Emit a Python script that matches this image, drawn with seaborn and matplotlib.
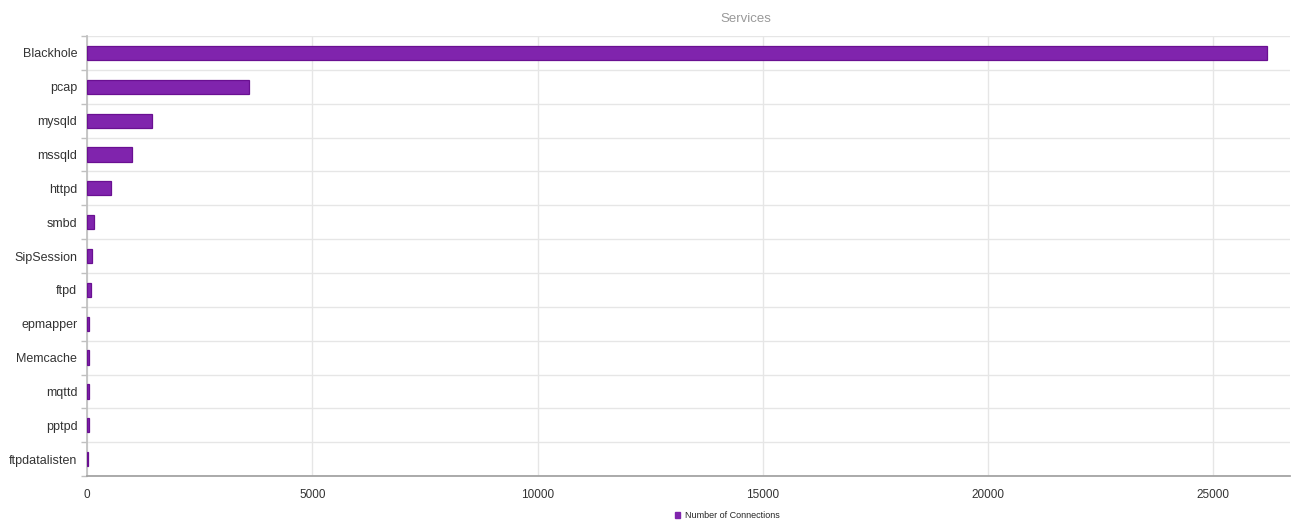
import matplotlib
matplotlib.use("Agg")
import matplotlib.pyplot as plt
import seaborn as sns
import pandas as pd
import numpy as np
from matplotlib.ticker import FixedLocator
from matplotlib.patches import Patch

services = ["Blackhole", "pcap", "mysqld", "mssqld", "httpd", "smbd", "SipSession",
            "ftpd", "epmapper", "Memcache", "mqttd", "pptpd", "ftpdatalisten"]
connections = [26200, 3600, 1440, 1000, 530, 155, 110, 85, 50, 50, 45, 45, 12]
x_ticks = [0, 5000, 10000, 15000, 20000, 25000]

df = pd.DataFrame({"service": services, "connections": connections})

sns.set_theme(style="white")
plt.rcParams["font.family"] = ["Liberation Sans", "DejaVu Sans"]

fig = plt.figure(figsize=(12.99, 5.22), dpi=100)
ax = fig.add_axes([0.067, 0.088, 0.926, 0.843])

bar_color = "#8024AD"
sns.barplot(data=df, y="service", x="connections", orient="h", color=bar_color,
            width=0.42, edgecolor="#6A1092", linewidth=0.9, saturation=1, ax=ax, zorder=3)

ax.set_xlim(0, 26700)
ax.set_ylim(len(services) - 0.5, -0.5)
ax.xaxis.set_major_locator(FixedLocator(x_ticks))
ax.set_xticklabels([str(t) for t in x_ticks])
ax.yaxis.set_minor_locator(FixedLocator(np.arange(-0.5, len(services), 1.0)))

ax.grid(True, axis="x", which="major", color="#e6e6e6", linewidth=1, zorder=0)
ax.grid(True, axis="y", which="minor", color="#e6e6e6", linewidth=1, zorder=0)
ax.grid(False, axis="y", which="major")

for s in ["top", "right"]:
    ax.spines[s].set_visible(False)
ax.spines["left"].set_color("#c0c0c0")
ax.spines["bottom"].set_color("#a0a0a0")

ax.tick_params(axis="y", which="major", length=0, labelsize=9, labelcolor="#333333", pad=7)
ax.tick_params(axis="y", which="minor", left=True, length=4, color="#c0c0c0", width=1)
ax.tick_params(axis="x", which="major", bottom=False, length=0, labelsize=8.5,
               labelcolor="#333333", pad=9)

ax.set_xlabel("")
ax.set_ylabel("")
fig.text(0.574, 0.963, "Services", ha="center", va="center", fontsize=9.5, color="#999999")

handle = Patch(facecolor=bar_color, edgecolor=bar_color)
fig.legend(handles=[handle], labels=["Number of Connections"], loc="center",
           bbox_to_anchor=(0.56, 0.012), frameon=False, fontsize=6.5,
           handlelength=0.6, handleheight=0.6, handletextpad=0.6)

fig.savefig("out.png", dpi=100)
